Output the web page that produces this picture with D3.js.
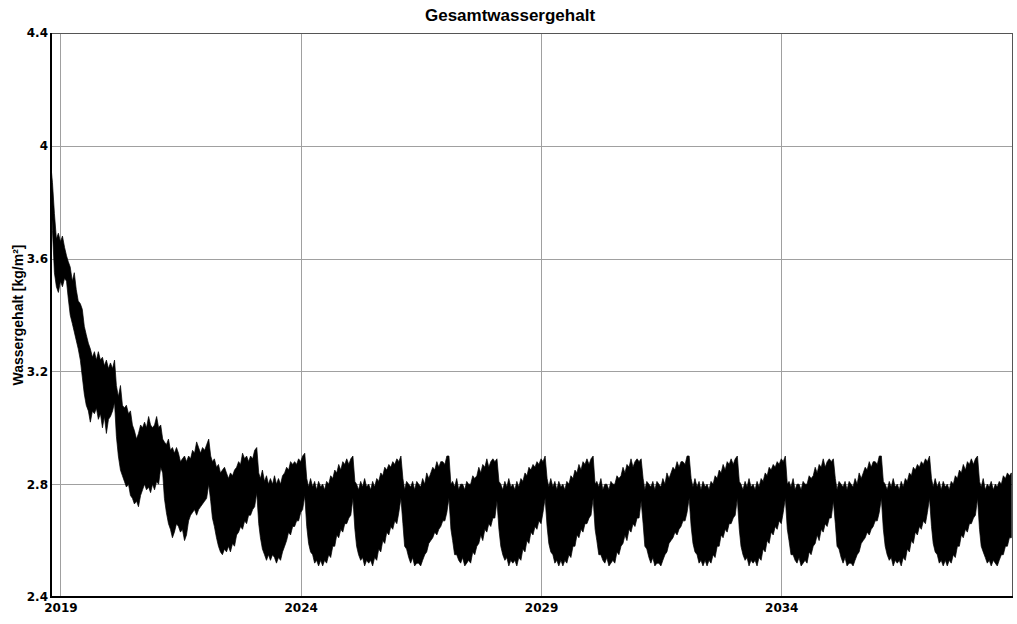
<!DOCTYPE html>
<html><head><meta charset="utf-8">
<script src="https://cdn.jsdelivr.net/npm/d3@7"></script>
<style>body{margin:0;background:#fff}svg{display:block}</style>
</head><body><div id="chart"></div>
<script>
// Semi-monthly samples (16th and 1st of each month) from 16 Oct 2018 to 16 Oct 2038:
// upper and lower envelope of the hourly series.
const firstMonth = "2018-10-01";
const upper = [
// transient Oct 2018 - Feb 2024
3.95,3.87,3.76,3.67,3.69,3.66,3.68,3.64,3.61,3.59,3.57,3.52,3.55,3.49,3.45,3.44,
3.42,3.36,3.33,3.30,3.28,3.25,3.27,3.24,3.27,3.24,3.25,3.22,3.24,3.21,3.23,3.21,
3.24,3.15,3.11,3.15,3.08,3.07,3.08,3.05,3.06,3.01,2.99,2.96,2.98,3.01,3.00,3.02,
3.00,3.04,3.01,3.00,3.01,3.04,3.00,3.01,2.96,2.95,2.94,2.96,2.92,2.93,2.91,2.93,
2.91,2.88,2.89,2.90,2.88,2.90,2.89,2.92,2.91,2.95,2.93,2.91,2.93,2.92,2.94,2.96,
2.90,2.88,2.89,2.86,2.87,2.84,2.85,2.86,2.84,2.82,2.84,2.83,2.85,2.86,2.88,2.87,
2.91,2.89,2.90,2.88,2.90,2.89,2.92,2.93,2.84,2.82,2.85,2.81,2.83,2.80,2.82,2.80,
2.83,2.80,2.82,2.80,2.83,2.84,2.86,2.85,2.88,2.87,2.88,2.87,2.89,2.88,2.90,2.91,
// Feb 2024 - Feb 2025
2.82,2.79,2.82,2.79,2.81,2.78,2.81,2.79,2.80,2.78,2.81,2.80,2.83,2.82,2.85,2.84,2.87,2.85,2.88,2.87,2.89,2.87,2.89,2.90,
// 2025
2.81,2.80,2.78,2.81,2.79,2.82,2.79,2.80,2.78,2.81,2.79,2.82,2.81,2.84,2.83,2.86,2.85,2.87,2.86,2.88,2.87,2.89,2.88,2.90,
// 2026
2.82,2.78,2.81,2.80,2.79,2.81,2.78,2.81,2.80,2.79,2.82,2.80,2.84,2.82,2.84,2.86,2.85,2.88,2.86,2.88,2.88,2.87,2.90,2.90,
// 2027
2.80,2.81,2.79,2.82,2.78,2.80,2.80,2.78,2.81,2.80,2.80,2.83,2.82,2.83,2.86,2.84,2.87,2.86,2.89,2.86,2.88,2.89,2.88,2.89,
// 2028
2.81,2.80,2.78,2.81,2.79,2.82,2.79,2.80,2.78,2.81,2.79,2.82,2.81,2.84,2.83,2.86,2.85,2.87,2.86,2.88,2.87,2.89,2.88,2.90,
// 2029
2.82,2.79,2.82,2.79,2.81,2.78,2.81,2.79,2.80,2.78,2.81,2.80,2.83,2.82,2.85,2.84,2.87,2.85,2.88,2.87,2.89,2.87,2.89,2.90,
// 2030
2.80,2.81,2.79,2.82,2.78,2.80,2.80,2.78,2.81,2.80,2.80,2.83,2.82,2.83,2.86,2.84,2.87,2.86,2.89,2.86,2.88,2.89,2.88,2.89,
// 2031
2.82,2.78,2.81,2.80,2.79,2.81,2.78,2.81,2.80,2.79,2.82,2.80,2.84,2.82,2.84,2.86,2.85,2.88,2.86,2.88,2.88,2.87,2.90,2.90,
// 2032
2.82,2.79,2.82,2.79,2.81,2.78,2.81,2.79,2.80,2.78,2.81,2.80,2.83,2.82,2.85,2.84,2.87,2.85,2.88,2.87,2.89,2.87,2.89,2.90,
// 2033
2.81,2.80,2.78,2.81,2.79,2.82,2.79,2.80,2.78,2.81,2.79,2.82,2.81,2.84,2.83,2.86,2.85,2.87,2.86,2.88,2.87,2.89,2.88,2.90,
// 2034
2.80,2.81,2.79,2.82,2.78,2.80,2.80,2.78,2.81,2.80,2.80,2.83,2.82,2.83,2.86,2.84,2.87,2.86,2.89,2.86,2.88,2.89,2.88,2.89,
// 2035
2.82,2.78,2.81,2.80,2.79,2.81,2.78,2.81,2.80,2.79,2.82,2.80,2.84,2.82,2.84,2.86,2.85,2.88,2.86,2.88,2.88,2.87,2.90,2.90,
// 2036
2.81,2.80,2.78,2.81,2.79,2.82,2.79,2.80,2.78,2.81,2.79,2.82,2.81,2.84,2.83,2.86,2.85,2.87,2.86,2.88,2.87,2.89,2.88,2.90,
// 2037
2.82,2.79,2.82,2.79,2.81,2.78,2.81,2.79,2.80,2.78,2.81,2.80,2.83,2.82,2.85,2.84,2.87,2.85,2.88,2.87,2.89,2.87,2.89,2.90,
// Feb - Oct 2038
2.81,2.79,2.82,2.78,2.80,2.79,2.81,2.78,2.80,2.79,2.81,2.80,2.83,2.82,2.84,2.83,2.84];
const lower = [
3.88,3.70,3.55,3.50,3.48,3.52,3.50,3.53,3.52,3.46,3.40,3.37,3.34,3.31,3.28,3.24,
3.18,3.12,3.08,3.06,3.02,3.06,3.05,3.07,3.03,3.05,3.00,3.04,2.98,3.03,3.04,3.06,
3.09,2.97,2.90,2.85,2.83,2.81,2.79,2.80,2.76,2.75,2.73,2.74,2.72,2.76,2.78,2.80,
2.78,2.79,2.77,2.80,2.78,2.81,2.80,2.86,2.84,2.75,2.70,2.66,2.64,2.61,2.63,2.66,
2.65,2.63,2.64,2.60,2.62,2.67,2.69,2.70,2.71,2.69,2.71,2.72,2.73,2.74,2.75,2.80,
2.74,2.68,2.65,2.61,2.58,2.56,2.55,2.57,2.56,2.58,2.56,2.59,2.58,2.62,2.63,2.65,
2.64,2.67,2.66,2.69,2.69,2.71,2.72,2.77,2.66,2.61,2.57,2.55,2.53,2.55,2.53,2.55,
2.54,2.52,2.54,2.53,2.56,2.58,2.60,2.63,2.62,2.65,2.65,2.67,2.67,2.70,2.71,2.76,
// 2024
2.65,2.59,2.56,2.55,2.52,2.53,2.51,2.53,2.51,2.53,2.52,2.55,2.54,2.58,2.58,2.62,2.61,2.64,2.63,2.66,2.66,2.68,2.69,2.75,
// 2025
2.64,2.58,2.55,2.53,2.54,2.51,2.53,2.52,2.53,2.51,2.54,2.53,2.57,2.56,2.60,2.59,2.63,2.62,2.65,2.64,2.67,2.66,2.70,2.75,
// 2026
2.66,2.58,2.57,2.54,2.52,2.54,2.51,2.52,2.52,2.51,2.53,2.55,2.56,2.59,2.60,2.61,2.63,2.62,2.64,2.65,2.67,2.67,2.70,2.75,
// 2027
2.64,2.60,2.55,2.55,2.53,2.52,2.54,2.51,2.52,2.53,2.52,2.56,2.55,2.58,2.59,2.62,2.60,2.64,2.63,2.66,2.65,2.68,2.68,2.74,
// 2028
2.64,2.58,2.55,2.53,2.54,2.51,2.53,2.52,2.53,2.51,2.54,2.53,2.57,2.56,2.60,2.59,2.63,2.62,2.65,2.64,2.67,2.66,2.70,2.75,
// 2029
2.65,2.59,2.56,2.55,2.52,2.53,2.51,2.53,2.51,2.53,2.52,2.55,2.54,2.58,2.58,2.62,2.61,2.64,2.63,2.66,2.66,2.68,2.69,2.75,
// 2030
2.64,2.60,2.55,2.55,2.53,2.52,2.54,2.51,2.52,2.53,2.52,2.56,2.55,2.58,2.59,2.62,2.60,2.64,2.63,2.66,2.65,2.68,2.68,2.74,
// 2031
2.66,2.58,2.57,2.54,2.52,2.54,2.51,2.52,2.52,2.51,2.53,2.55,2.56,2.59,2.60,2.61,2.63,2.62,2.64,2.65,2.67,2.67,2.70,2.75,
// 2032
2.65,2.59,2.56,2.55,2.52,2.53,2.51,2.53,2.51,2.53,2.52,2.55,2.54,2.58,2.58,2.62,2.61,2.64,2.63,2.66,2.66,2.68,2.69,2.75,
// 2033
2.64,2.58,2.55,2.53,2.54,2.51,2.53,2.52,2.53,2.51,2.54,2.53,2.57,2.56,2.60,2.59,2.63,2.62,2.65,2.64,2.67,2.66,2.70,2.75,
// 2034
2.64,2.60,2.55,2.55,2.53,2.52,2.54,2.51,2.52,2.53,2.52,2.56,2.55,2.58,2.59,2.62,2.60,2.64,2.63,2.66,2.65,2.68,2.68,2.74,
// 2035
2.66,2.58,2.57,2.54,2.52,2.54,2.51,2.52,2.52,2.51,2.53,2.55,2.56,2.59,2.60,2.61,2.63,2.62,2.64,2.65,2.67,2.67,2.70,2.75,
// 2036
2.64,2.58,2.55,2.53,2.54,2.51,2.53,2.52,2.53,2.51,2.54,2.53,2.57,2.56,2.60,2.59,2.63,2.62,2.65,2.64,2.67,2.66,2.70,2.75,
// 2037
2.65,2.59,2.56,2.55,2.52,2.53,2.51,2.53,2.51,2.53,2.52,2.55,2.54,2.58,2.58,2.62,2.61,2.64,2.63,2.66,2.66,2.68,2.69,2.75,
// 2038
2.64,2.58,2.56,2.54,2.52,2.53,2.51,2.53,2.52,2.51,2.53,2.55,2.55,2.58,2.58,2.61,2.61];
const yTicks = [2.4, 2.8, 3.2, 3.6, 4, 4.4];
const xTickYears = [2019, 2024, 2029, 2034];
const titleText = "Gesamtwassergehalt";
const yLabelText = "Wassergehalt [kg/m²]";

const W = 1017, H = 624;
const L = 51, R = 1012, T = 33, B = 597;
const parse = d3.utcParse("%Y-%m-%d");
const m0 = parse(firstMonth);
const dates = upper.map((_, k) => {
  const d = d3.utcMonth.offset(m0, Math.floor((k + 1) / 2));
  return k % 2 === 0 ? d3.utcDay.offset(d, 15) : d;
});

const x = d3.scaleUtc().domain([parse("2018-10-21"), parse("2038-10-21")]).range([L, R]);
const y = d3.scaleLinear().domain([2.4, 4.4]).range([B, T]);

const svg = d3.select("#chart").append("svg").attr("width", W).attr("height", H);

svg.append("defs").append("clipPath").attr("id", "plotclip")
  .append("rect").attr("x", L).attr("y", T).attr("width", R - L).attr("height", B - T);

// grid
const grid = svg.append("g").attr("stroke", "#a0a0a0").attr("stroke-width", 1).attr("shape-rendering", "crispEdges");
grid.selectAll("line.h").data(yTicks.slice(1, -1)).join("line")
  .attr("x1", L).attr("x2", R).attr("y1", d => Math.round(y(d)) + 0.5).attr("y2", d => Math.round(y(d)) + 0.5);
grid.selectAll("line.v").data(xTickYears).join("line")
  .attr("y1", T).attr("y2", B)
  .attr("x1", d => Math.round(x(Date.UTC(d, 0, 1))) + 0.5).attr("x2", d => Math.round(x(Date.UTC(d, 0, 1))) + 0.5);

// data band
const area = d3.area()
  .x((d, i) => x(dates[i]))
  .y0((d, i) => y(lower[i]))
  .y1((d, i) => y(upper[i]));
svg.append("path").attr("clip-path", "url(#plotclip)")
  .attr("d", area(upper))
  .attr("fill", "#000").attr("stroke", "#000").attr("stroke-width", 0.7).attr("stroke-linejoin", "miter");

// frame
svg.append("path").attr("d", `M${L},${T + 0.5}H${R + 0.5}V${B}`)
  .attr("fill", "none").attr("stroke", "#555").attr("stroke-width", 1).attr("shape-rendering", "crispEdges");
svg.append("path").attr("d", `M${L},${T}V${B}H${R + 1}`)
  .attr("fill", "none").attr("stroke", "#000").attr("stroke-width", 2).attr("shape-rendering", "crispEdges");

// axes
const yAxis = d3.axisLeft(y).tickValues(yTicks).tickSize(0).tickPadding(3).tickFormat(d3.format("~g"));
const gy = svg.append("g").attr("transform", `translate(${L},0)`).call(yAxis);
gy.select(".domain").remove();
gy.selectAll("text").attr("font-family", "DejaVu Sans").attr("font-weight", "bold").attr("font-size", 12).attr("fill", "#000");

const xAxis = d3.axisBottom(x).tickValues(xTickYears.map(yr => new Date(Date.UTC(yr, 0, 1))))
  .tickSize(0).tickPadding(6).tickFormat(d3.utcFormat("%Y"));
const gx = svg.append("g").attr("transform", `translate(0,${B})`).call(xAxis);
gx.select(".domain").remove();
gx.selectAll("text").attr("font-family", "DejaVu Sans").attr("font-weight", "bold").attr("font-size", 12).attr("fill", "#000");

// title & y label
svg.append("text").attr("x", 510).attr("y", 21).attr("text-anchor", "middle")
  .attr("font-family", "Liberation Sans, Arial, sans-serif").attr("font-weight", "bold").attr("font-size", 17)
  .attr("fill", "#000").text(titleText);
svg.append("text").attr("transform", `translate(23,${(T + B) / 2}) rotate(-90)`).attr("text-anchor", "middle")
  .attr("font-family", "Liberation Sans, Arial, sans-serif").attr("font-weight", "bold").attr("font-size", 14)
  .attr("fill", "#000").text(yLabelText);
</script></body></html>
